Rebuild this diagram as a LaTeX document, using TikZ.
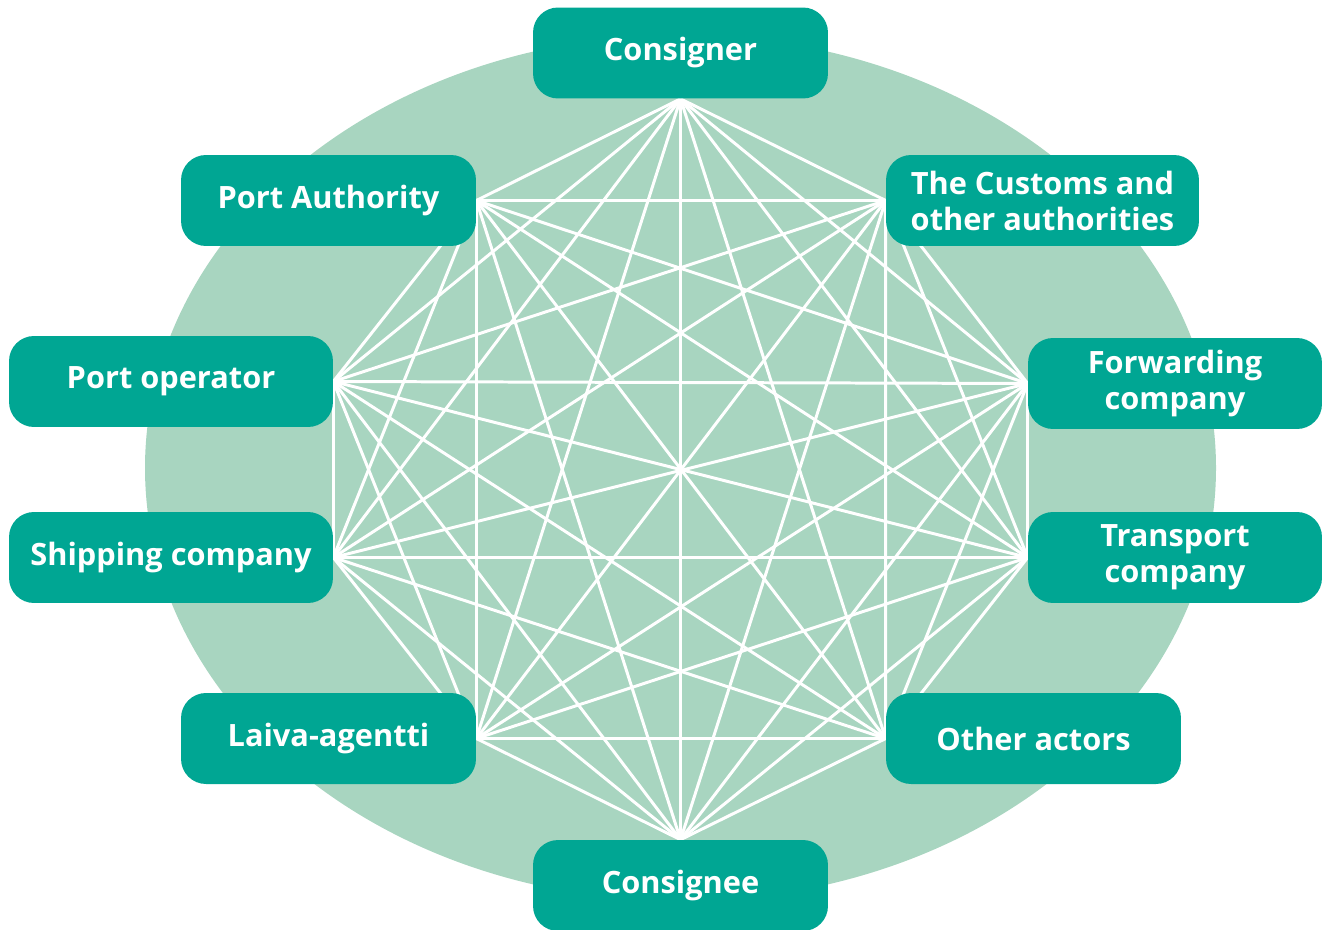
\documentclass[tikz,border=0pt]{standalone}
\usepackage{fontspec}
\setmainfont{Open Sans}
\definecolor{actorteal}{RGB}{0, 166, 147}
\definecolor{cloudgreen}{RGB}{168, 213, 192}
\usetikzlibrary{positioning}
\pgfdeclarelayer{back}
\pgfdeclarelayer{mid}
\pgfsetlayers{back,mid,main}

\begin{document}
\begin{tikzpicture}[x=0.02cm, y=-0.02cm,
    actor/.style={fill=actorteal, rounded corners=0.5cm, text=white, align=center,
      font=\fontsize{17.5}{20.5}\selectfont\bfseries, minimum height=1.82cm, inner sep=2pt},
    link/.style={white, line width=1.7pt}]
  \useasboundingbox (0,0) rectangle (1327,929);

  % Actors
  \node[actor, minimum width=5.9cm] (consigner) at (680.5, 53) {Consigner};
  \node[actor, minimum width=5.9cm] (authority) at (328.5, 200.5) {Port Authority};
  \node[actor, minimum width=6.26cm] (customs) at (1042.5, 200.5) {The Customs and\\other authorities};
  \node[actor, minimum width=6.48cm] (operator) at (171, 381.5) {Port operator};
  \node[actor, minimum width=5.88cm] (forwarding) at (1175, 383.5) {Forwarding\\company};
  \node[actor, minimum width=6.48cm] (shipping) at (171, 557.5) {Shipping company};
  \node[actor, minimum width=5.88cm] (transport) at (1175, 557.5) {Transport\\company};
  \node[actor, minimum width=5.9cm] (laiva) at (328.5, 738.5) {Laiva-agentti};
  \node[actor, minimum width=5.9cm] (other) at (1033.5, 738.5) {Other actors};
  \node[actor, minimum width=5.9cm] (consignee) at (680.5, 885.5) {Consignee};

  % Background
  \begin{pgfonlayer}{back}
    \fill[cloudgreen] (680.5, 468) ellipse [x radius=535.5, y radius=433];
  \end{pgfonlayer}

  % Everyone talks to everyone
  \def\ends{consigner.south, customs.west, forwarding.west, transport.west, other.west,
    consignee.north, laiva.east, shipping.east, operator.east, authority.east}
  \begin{pgfonlayer}{mid}
    \foreach \p [count=\i] in \ends {
      \foreach \q [count=\j] in \ends {
        \ifnum\i<\j \draw[link] (\p) -- (\q); \fi
      }
    }
  \end{pgfonlayer}
\end{tikzpicture}
\end{document}
